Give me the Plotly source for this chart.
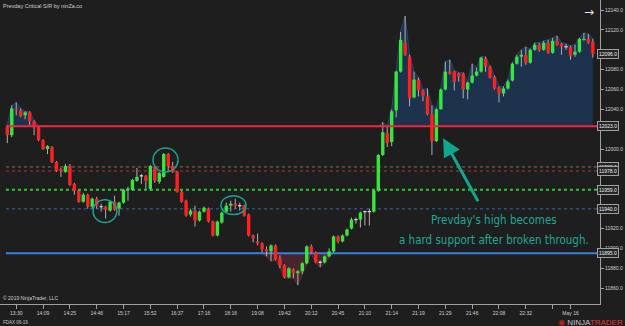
import plotly.graph_objects as go

# ---------------- data ----------------
opens = [12022, 12014, 12040, 12039, 12034, 12037, 12028, 12022, 12009, 12000,
         12002, 11987, 11980, 11977, 11983, 11965, 11958, 11947, 11954, 11942,
         11950, 11942, 11942, 11938, 11947, 11940, 11946, 11959, 11959, 11968,
         11973, 11973, 11960, 11982, 11967, 11972, 11995, 11983, 11977, 11957,
         11948, 11934, 11938, 11928, 11937, 11940, 11927, 11913, 11926, 11937,
         11943, 11945, 11943, 11943, 11934, 11913, 11907, 11905, 11899, 11897,
         11903, 11890, 11883, 11871, 11879, 11875, 11877, 11885, 11902, 11896,
         11886, 11886, 11892, 11897, 11912, 11907, 11913, 11920, 11929, 11929,
         11937, 11937, 11937, 11958, 11994, 12016, 12007, 12039, 12078, 12107,
         12093, 12052, 12070, 12059, 12053, 12035, 12008, 12040, 12060, 12078,
         12078, 12076, 12076, 12060, 12067, 12074, 12078, 12091, 12083, 12073,
         12062, 12056, 12061, 12069, 12086, 12093, 12095, 12087, 12100, 12105,
         12100, 12107, 12097, 12109, 12106, 12103, 12103, 12095, 12098, 12110,
         12111, 12108]
highs = [12024, 12044, 12047, 12041, 12038, 12038, 12029, 12023, 12010, 12004,
         12003, 11988, 11981, 11985, 11985, 11966, 11959, 11956, 11955, 11951,
         11952, 11945, 11943, 11948, 11953, 11947, 11960, 11962, 11970, 11981,
         11975, 11974, 11984, 11983, 11977, 11996, 11996, 11987, 11978, 11958,
         11949, 11940, 11943, 11938, 11942, 11941, 11928, 11928, 11937, 11946,
         11948, 11950, 11946, 11944, 11935, 11914, 11915, 11906, 11902, 11904,
         11904, 11893, 11884, 11881, 11880, 11878, 11886, 11903, 11904, 11897,
         11888, 11893, 11900, 11913, 11913, 11914, 11920, 11931, 11931, 11937,
         11938, 11940, 11959, 11995, 12027, 12023, 12040, 12079, 12118, 12134,
         12095, 12078, 12072, 12060, 12061, 12044, 12041, 12061, 12088, 12090,
         12079, 12077, 12077, 12068, 12086, 12082, 12093, 12093, 12084, 12074,
         12063, 12063, 12070, 12087, 12095, 12100, 12103, 12101, 12107, 12107,
         12109, 12110, 12112, 12114, 12107, 12106, 12104, 12105, 12112, 12117,
         12116, 12111]
lows = [12006, 12012, 12034, 12032, 12030, 12024, 12014, 12008, 11999, 11995,
        11986, 11977, 11972, 11976, 11963, 11954, 11946, 11946, 11940, 11940,
        11940, 11937, 11930, 11937, 11938, 11933, 11945, 11948, 11958, 11967,
        11965, 11960, 11958, 11966, 11965, 11971, 11977, 11976, 11956, 11946,
        11932, 11932, 11922, 11927, 11936, 11926, 11912, 11912, 11925, 11936,
        11937, 11940, 11938, 11932, 11912, 11906, 11903, 11896, 11892, 11887,
        11888, 11880, 11870, 11870, 11870, 11863, 11874, 11884, 11895, 11885,
        11881, 11885, 11891, 11896, 11905, 11906, 11912, 11919, 11925, 11921,
        11923, 11923, 11936, 11957, 11993, 12002, 12003, 12032, 12077, 12094,
        12043, 12051, 12053, 12048, 12034, 11994, 12007, 12040, 12059, 12075,
        12059, 12068, 12051, 12050, 12066, 12073, 12077, 12078, 12071, 12060,
        12047, 12053, 12060, 12068, 12085, 12083, 12085, 12086, 12099, 12098,
        12099, 12096, 12096, 12104, 12095, 12100, 12090, 12093, 12097, 12109,
        12106, 12092]
closes = [12014, 12041, 12039, 12033, 12037, 12028, 12022, 12009, 12000, 12003,
          11987, 11978, 11978, 11983, 11964, 11958, 11947, 11954, 11942, 11950,
          11943, 11942, 11939, 11947, 11939, 11946, 11959, 11960, 11969, 11972,
          11973, 11968, 11983, 11968, 11976, 11995, 11983, 11977, 11957, 11947,
          11933, 11938, 11928, 11937, 11941, 11927, 11913, 11927, 11936, 11943,
          11945, 11943, 11943, 11933, 11913, 11910, 11905, 11899, 11897, 11903,
          11889, 11883, 11871, 11880, 11875, 11877, 11885, 11902, 11896, 11886,
          11886, 11892, 11897, 11912, 11907, 11913, 11919, 11929, 11929, 11936,
          11937, 11937, 11958, 11994, 12017, 12006, 12038, 12078, 12110, 12095,
          12051, 12070, 12059, 12053, 12035, 12008, 12040, 12060, 12078, 12076,
          12068, 12073, 12060, 12067, 12074, 12078, 12092, 12083, 12072, 12061,
          12056, 12061, 12068, 12086, 12093, 12095, 12087, 12100, 12105, 12100,
          12107, 12097, 12109, 12105, 12103, 12103, 12094, 12098, 12111, 12111,
          12107, 12096]

time_tick_pos = [2, 8, 14, 20, 26, 32, 38, 44, 50, 56, 62, 68, 74, 80, 86, 92,
                 98, 104, 110, 116, 122, 126]
time_tick_labels = ["13:30", "14:09", "14:25", "14:46", "15:17", "15:52", "16:37",
                    "17:16", "18:16", "19:08", "19:42", "20:12", "20:45", "21:10",
                    "21:14", "21:19", "21:29", "21:46", "22:08", "22:32", "", "May 16"]
price_ticks = [11860, 11880, 11900, 11920, 11940, 11960, 11980, 12000, 12020,
               12040, 12060, 12080, 12100, 12120, 12140]
hidden_price_ticks = [11940, 11960, 11980, 12020, 12100]   # covered by price tags

prev_high = 12023        # Prevday high (red)
level_tan = 11982
level_maroon = 11978
level_green = 11959
level_blue_dot = 11940
level_blue = 11895       # lower support (blue)

circle_boxes = [(19.2, 24.5, 11926, 11949), (32.6, 38.2, 11977, 12001), (47.8, 53.4, 11934, 11953)]

# ---------------- figure ----------------
n = len(opens)
idx = list(range(n))
BG = "#1e1e1e"
fig = go.Figure()

# shaded area above prevday high
fig.add_trace(go.Scatter(x=idx, y=[prev_high] * n, mode="lines", line=dict(width=0),
                         hoverinfo="skip", showlegend=False))
fig.add_trace(go.Scatter(x=idx, y=[max(h, prev_high) for h in highs], mode="lines",
                         line=dict(width=1, color="#2a4666"), fill="tonexty",
                         fillcolor="#1c324d", hoverinfo="skip", showlegend=False))
# shaded area below support
fig.add_trace(go.Scatter(x=idx, y=[level_blue] * n, mode="lines", line=dict(width=0),
                         hoverinfo="skip", showlegend=False))
fig.add_trace(go.Scatter(x=idx, y=[min(l, level_blue) for l in lows], mode="lines",
                         line=dict(width=1, color="#55303d"), fill="tonexty",
                         fillcolor="#45262f", hoverinfo="skip", showlegend=False))

# level lines
x_line = [-0.3, n + 2]
levels = [
    (level_tan, "#8c7346", 1, "dot"),
    (level_maroon, "#6e2633", 2, "dot"),
    (level_green, "#1fd21f", 2, "dot"),
    (level_blue_dot, "#2b527c", 1.5, "dot"),
    (level_blue, "#3a7fdc", 2, "solid"),
]
for lv, col, w, dash in levels:
    fig.add_trace(go.Scatter(x=x_line, y=[lv, lv], mode="lines",
                             line=dict(color=col, width=w, dash=dash),
                             hoverinfo="skip", showlegend=False))

# wicks
wx, wy = [], []
for i in idx:
    wx += [i, i, None]
    wy += [lows[i], highs[i], None]
fig.add_trace(go.Scatter(x=wx, y=wy, mode="lines", line=dict(color="#b0b0b0", width=1),
                         hoverinfo="skip", showlegend=False))

# bodies (thick segments, drawn above wicks)
groups = {"#36e63a": ([], []), "#ff2121": ([], []), "#dcdcdc": ([], [])}
for i, (o, c) in enumerate(zip(opens, closes)):
    col = "#36e63a" if c > o else ("#ff2121" if c < o else "#dcdcdc")
    lo, hi = min(o, c), max(o, c)
    if hi - lo < 1.2:
        mid = (hi + lo) / 2
        lo, hi = mid - 0.6, mid + 0.6
    gx, gy = groups[col]
    gx += [i, i, None]
    gy += [lo, hi, None]
for col, (gx, gy) in groups.items():
    fig.add_trace(go.Scatter(x=gx, y=gy, mode="lines", line=dict(color=col, width=3.4),
                             hoverinfo="skip", showlegend=False))

# prevday high line over the candles
fig.add_trace(go.Scatter(x=x_line, y=[prev_high, prev_high], mode="lines",
                         line=dict(color="#ff1e3c", width=2),
                         hoverinfo="skip", showlegend=False))

# circles
for x0, x1, y0, y1 in circle_boxes:
    fig.add_shape(type="circle", xref="x", yref="y", x0=x0, x1=x1, y0=y0, y1=y1,
                  line=dict(color="#17a593", width=1.5))

TEAL = "#1fa895"
narrow = "Liberation Sans Narrow, DejaVu Sans Condensed, Roboto Condensed, Roboto"
annotations = [
    dict(x=97.5, y=12011, ax=105.5, ay=11946, xref="x", yref="y", axref="x", ayref="y",
         text="", showarrow=True, arrowhead=2, arrowsize=1.2, arrowwidth=3,
         arrowcolor="#12a58f"),
    dict(x=108.9, y=11929, xref="x", yref="y", text="Prevday's high becomes",
         showarrow=False, font=dict(family=narrow, size=11.5, color=TEAL)),
    dict(x=108.9, y=11908, xref="x", yref="y", text="a hard support after broken through.",
         showarrow=False, font=dict(family=narrow, size=11.5, color=TEAL)),
    dict(x=0, y=1, xref="paper", yref="paper", xanchor="left", yanchor="top", xshift=1,
         yshift=-1, text="Prevday Critical S/R by ninZa.co", showarrow=False,
         font=dict(family="Liberation Sans", size=5.5, color="#d0d0d0")),
    dict(x=589 / 600, y=1 - 10 / 304, xref="paper", yref="paper", text="→",
         xshift=7, yshift=7,
         showarrow=False, font=dict(family="DejaVu Sans", size=12, color="#e6e6e6")),
    dict(x=0, y=0, xref="paper", yref="paper", xanchor="left", yanchor="middle", xshift=1,
         yshift=6, text="© 2019 NinjaTrader, LLC", showarrow=False,
         font=dict(family="Liberation Sans", size=5, color="#d0d0d0")),
    dict(x=0, y=0, xref="paper", yref="paper", xanchor="left", yanchor="middle", xshift=1,
         yshift=-18, text="FDAX 06-19", showarrow=False,
         font=dict(family="Liberation Sans", size=4.5, color="#c8c8c8")),
    dict(x=625 / 600, y=0, xref="paper", yref="paper", xanchor="right", yanchor="middle",
         yshift=-18,
         text="<span style='color:#b22'>◉</span> <span style='color:#c4c4c4'>NINJA</span><span style='color:#e23a3a'>TRADER</span>",
         showarrow=False, font=dict(family="Liberation Sans", size=8, color="#c4c4c4")),
]

# price tags on the right axis
tag_levels = [closes[-1], prev_high, level_tan, level_maroon, level_green, level_blue_dot, level_blue]
for lv in tag_levels:
    annotations.append(dict(x=1, y=lv, xref="paper", yref="y", xanchor="left", yanchor="middle",
                            xshift=-3, text=f"{lv:.1f}", showarrow=False,
                            font=dict(family="Liberation Sans", size=5, color="#f0f0f0"),
                            bgcolor="#262626", bordercolor="#a0a0a0", borderwidth=1,
                            borderpad=1))

fig.update_layout(
    width=625, height=326, margin=dict(l=0, r=25, t=0, b=22),
    paper_bgcolor=BG, plot_bgcolor=BG, showlegend=False,
    annotations=annotations,
    xaxis=dict(range=[-1.63, 132.6], tickvals=time_tick_pos, ticktext=time_tick_labels,
               showgrid=False, zeroline=False, showline=True, linecolor="#a0a0a0",
               linewidth=1, ticks="outside", ticklen=4, tickcolor="#a0a0a0",
               tickfont=dict(family="Liberation Sans", size=5, color="#d0d0d0")),
    yaxis=dict(range=[11844, 12150.1], side="right", tickvals=price_ticks,
               ticktext=["" if v in hidden_price_ticks else f"{v:.1f}" for v in price_ticks],
               showgrid=False, zeroline=False,
               showline=True, linecolor="#a0a0a0", linewidth=1, ticks="outside", ticklen=3,
               tickcolor="#a0a0a0",
               tickfont=dict(family="Liberation Sans", size=5, color="#d0d0d0")),
)

fig.write_html("out.html")
